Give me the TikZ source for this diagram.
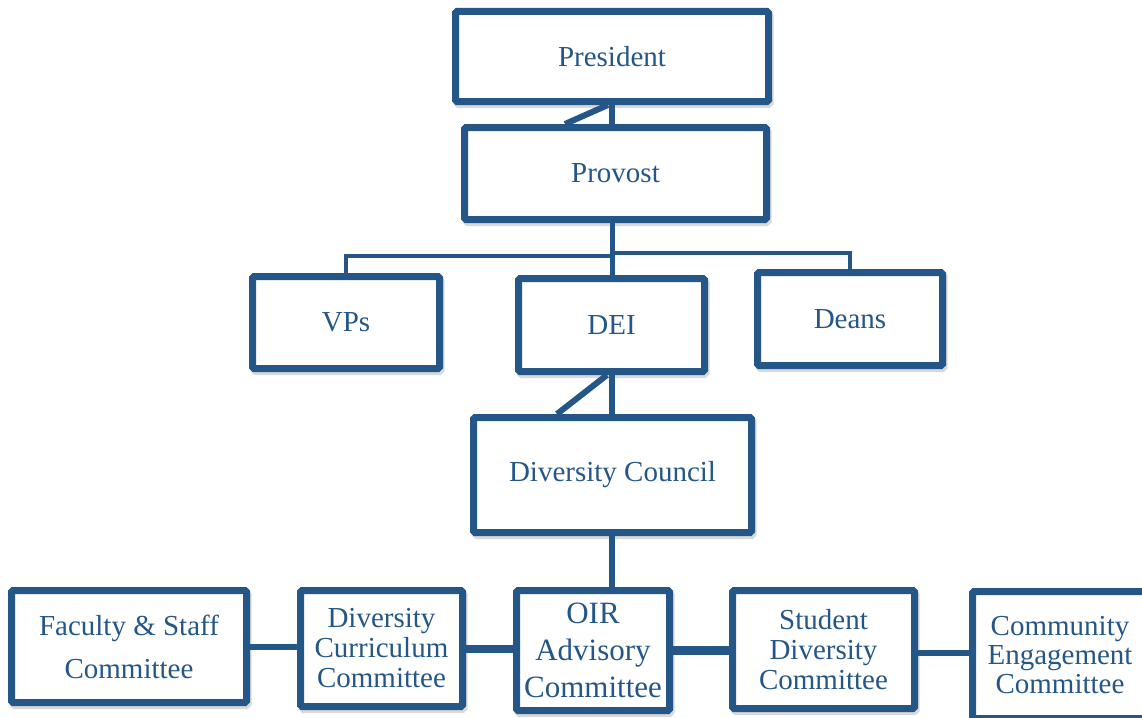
\documentclass[tikz,border=0pt]{standalone}
\usepackage{fontspec}
\setmainfont{Liberation Serif}
\usetikzlibrary{shadows,calc}
\definecolor{navy}{RGB}{36,86,135}
\begin{document}
\begin{tikzpicture}[x=1pt,y=-1pt,
  box/.style={draw=navy, line width=7pt, fill=white, rounded corners=1.5pt,
    inner sep=0pt, align=center, text=navy,
    font=\fontsize{29}{30}\selectfont,
    general shadow={draw=black!15, fill=black!15, line width=7pt, shadow xshift=1.5pt, shadow yshift=-3pt}},
  link/.style={draw=navy, line width=5pt}]
\clip (0,0) rectangle (1142,717);
\fill[white] (0,0) rectangle (1142,717);

\node[box, minimum width=313pt, minimum height=90pt] (pres) at (612,56.5) {President};
\node[box, minimum width=302pt, minimum height=92pt] (prov) at (615.5,173.5) {Provost};
\node[box, minimum width=187pt, minimum height=92pt] (vps) at (346,322.5) {VPs};
\node[box, minimum width=186pt, minimum height=93pt] (dei) at (611.5,325) {DEI};
\node[box, minimum width=185pt, minimum height=93pt] (deans) at (850,319) {Deans};
\node[box, minimum width=278pt, minimum height=115pt] (dc) at (612.5,475) {Diversity Council};
\node[box, minimum width=235pt, minimum height=112pt, font=\fontsize{29}{43}\selectfont] (fs) at (129,646.5) {Faculty \& Staff\\Committee};
\node[box, minimum width=162pt, minimum height=116pt] (dcur) at (381.5,648.5) {Diversity\\Curriculum\\Committee};
\node[box, minimum width=153pt, minimum height=120pt, font=\fontsize{31}{37}\selectfont] (oir) at (593,650.5) {OIR\\Advisory\\Committee};
\node[box, minimum width=182pt, minimum height=118pt] (sd) at (823.5,649.5) {Student\\Diversity\\Committee};
\node[box, minimum width=175pt, minimum height=127pt, font=\fontsize{29}{29}\selectfont] (ce) at (1060,655) {Community\\Engagement\\Committee};

\coordinate (sp) at (612,0);
\coordinate (d1) at (565,124);
\coordinate (d2) at (557,414);
\coordinate (busL) at (612,256);
\coordinate (busR) at (612,253);

\draw[link, line width=6pt] (sp |- pres.south) -- (sp |- prov.north);
\draw[link, line width=6pt] ($(sp |- pres.south)+(-4,0)$) -- (d1);
\draw[link, line width=5pt] (sp |- prov.south) -- (sp |- dei.north);
\draw[link, line width=4.5pt] (busL) -| (vps.north);
\draw[link, line width=4.5pt] (busR) -| (deans.north);
\draw[link, line width=6pt] (sp |- dei.south) -- (sp |- dc.north);
\draw[link, line width=6pt] ($(sp |- dei.south)+(-5,0)$) -- (d2);
\draw[link, line width=6pt] (sp |- dc.south) -- (sp |- oir.north);
\draw[link, line width=6pt] (fs.east) -- (fs.east -| dcur.west);
\draw[link, line width=8pt] (dcur.east) -- (dcur.east -| oir.west);
\draw[link, line width=9pt] (oir.east) -- (oir.east -| sd.west);
\draw[link, line width=6pt] ($(sd.east)+(0,3.5)$) -- ($(sd.east -| ce.west)+(0,3.5)$);
\end{tikzpicture}
\end{document}
